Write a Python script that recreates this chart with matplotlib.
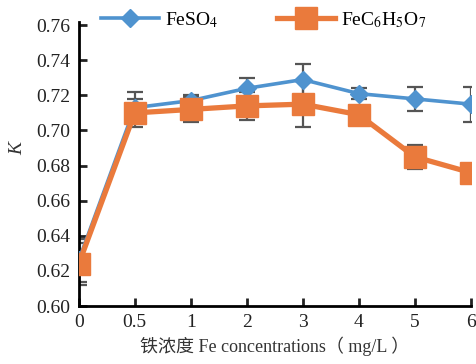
import numpy as np
import matplotlib
matplotlib.use('Agg')
import matplotlib.pyplot as plt

plt.rcParams['font.family'] = ['Liberation Serif', 'Noto Sans CJK SC']
plt.rcParams['mathtext.fontset'] = 'stix'

concentrations = ['0', '0.5', '1', '2', '3', '4', '5', '6']
feso4 = [0.626, 0.713, 0.717, 0.724, 0.729, 0.721, 0.718, 0.715]
feso4_err = [0.012, 0.009, 0.003, 0.006, 0.009, 0.003, 0.007, 0.010]
fecit = [0.624, 0.710, 0.712, 0.714, 0.715, 0.709, 0.685, 0.676]
fecit_err = [0.012, 0.008, 0.007, 0.008, 0.013, 0.004, 0.007, 0.005]

blue = '#4f93cf'
orange = '#ea7a3c'
gray = '#555555'

x = np.arange(len(concentrations))

fig = plt.figure(figsize=(4.77, 3.64), dpi=100)
ax = fig.add_axes([0.165, 0.159, 0.822, 0.772])

ax.errorbar(x, feso4, yerr=feso4_err, fmt='none', ecolor=gray, elinewidth=1.6,
            capsize=5.5, capthick=1.6, zorder=1)
ax.errorbar(x, fecit, yerr=fecit_err, fmt='none', ecolor=gray, elinewidth=1.6,
            capsize=5.5, capthick=1.6, zorder=1)
ax.plot(x, feso4, color=blue, lw=2.6, marker='D', ms=9, label=r'FeSO$_4$', zorder=3)
ax.plot(x, fecit, color=orange, lw=3.8, marker='s', ms=16.5,
        label=r'FeC$_6$H$_5$O$_7$', zorder=4)

ax.set_xlim(0, 7)
ax.set_ylim(0.60, 0.76)
ax.set_xticks(x)
ax.set_xticklabels(concentrations)
ax.set_yticks(np.arange(0.60, 0.761, 0.02))
ax.set_yticklabels(['%.2f' % v for v in np.arange(0.60, 0.761, 0.02)])
ax.tick_params(direction='in', length=6, width=2, labelsize=14, colors='#222222', pad=6)
for s in ['top', 'right']:
    ax.spines[s].set_visible(False)
for s in ['left', 'bottom']:
    ax.spines[s].set_linewidth(2)
    ax.spines[s].set_color('black')
ax.spines['left'].set_bounds(0.60, 0.762)

ax.set_xlabel('铁浓度 Fe concentrations（ mg/L ）', fontsize=13, color='#333333', labelpad=4)
ax.set_ylabel('K', fontsize=14, style='italic', color='#333333')
ax.yaxis.set_label_coords(-0.135, 0.56)

fig.legend(loc='upper left', bbox_to_anchor=(0.175, 1.02), ncol=2, frameon=False,
           fontsize=14, handlelength=3, columnspacing=3, handletextpad=0.3)

fig.savefig('out.png', dpi=100)
